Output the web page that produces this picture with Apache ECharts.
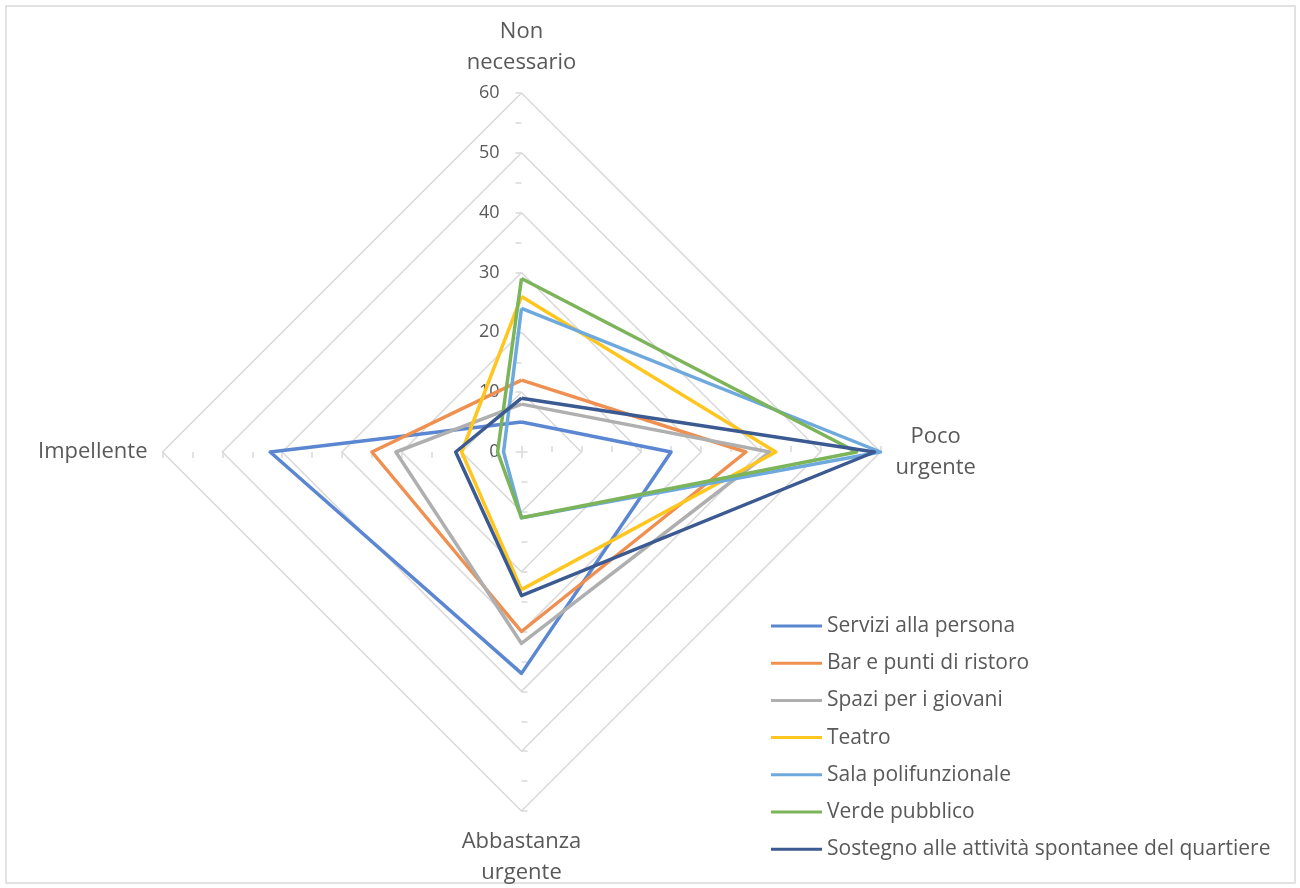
<!DOCTYPE html>
<html>
<head>
<meta charset="utf-8">
<script src="https://cdn.jsdelivr.net/npm/echarts@6/dist/echarts.min.js"></script>
<style>
  html, body { margin: 0; padding: 0; background: #ffffff; }
  #chart { width: 1300px; height: 888px; }
</style>
</head>
<body>
<div id="chart"></div>
<script>
// Radar axes, listed clockwise from the top
const categories = ['Non\nnecessario', 'Poco\nurgente', 'Abbastanza\nurgente', 'Impellente'];
const axisMax = 60;

// Values per series, same order as categories
const serviziAllaPersona = [5, 25, 37, 42];
const barPuntiRistoro = [12, 37.5, 30, 25];
const spaziGiovani = [8, 41.5, 32, 21];
const teatro = [26, 42.5, 23, 10];
const salaPolifunzionale = [24, 60, 11, 3];
const verdePubblico = [29, 56, 11, 4];
const sostegnoQuartiere = [9, 59, 24, 11];

const seriesNames = [
  'Servizi alla persona',
  'Bar e punti di ristoro',
  'Spazi per i giovani',
  'Teatro',
  'Sala polifunzionale',
  'Verde pubblico',
  'Sostegno alle attività spontanee del quartiere'
];
const seriesValues = [serviziAllaPersona, barPuntiRistoro, spaziGiovani, teatro,
  salaPolifunzionale, verdePubblico, sostegnoQuartiere];
const seriesColors = ['#5B87D2', '#EF8F50', '#AFAFAF', '#FFC61F', '#6EA9DE', '#7CB459', '#3C5A92'];

const textColor = '#595959';
const fontFamily = 'Open Sans, sans-serif';

// ECharts lays indicators out counter-clockwise; remap so the axes run clockwise
const order = [0, 3, 2, 1];
const remap = arr => order.map(i => arr[i]);

const center = [521.5, 452];
const radius = 359;

function indicators(withLabels) {
  return remap(categories).map((name, k) => ({
    name: name,
    min: 0,
    max: axisMax,
    axisLabel: { show: withLabels && k === 0 }
  }));
}

const tickBase = {
  center: center,
  radius: radius,
  shape: 'polygon',
  splitNumber: 12,
  axisName: { show: false },
  axisLine: { show: false },
  axisLabel: { show: false },
  splitLine: { show: false },
  splitArea: { show: false },
  silent: true
};

const option = {
  animation: false,
  backgroundColor: '#ffffff',
  graphic: [{
    type: 'rect',
    shape: { x: 6, y: 6, width: 1289, height: 877 },
    style: { fill: 'none', stroke: '#d9d9d9', lineWidth: 1.5 },
    silent: true
  }],
  legend: {
    orient: 'vertical',
    left: 766,
    top: 610,
    icon: 'rect',
    itemWidth: 51,
    itemHeight: 3,
    itemGap: 15.2,
    data: seriesNames,
    textStyle: { color: textColor, fontSize: 21, fontFamily: fontFamily, lineHeight: 22 }
  },
  radar: [
    {
      center: center,
      radius: radius,
      shape: 'polygon',
      splitNumber: 6,
      indicator: indicators(true),
      axisName: {
        color: textColor,
        fontSize: 22,
        fontFamily: fontFamily,
        formatter: name => name.split('\n').map(l => '{c|' + l + '}').join('\n'),
        rich: {
          c: { align: 'center', color: textColor, fontSize: 22, fontFamily: fontFamily, lineHeight: 31 }
        }
      },
      nameGap: 15,
      axisLine: { show: false },
      axisTick: { show: false },
      axisLabel: { show: true, color: textColor, fontSize: 18, fontFamily: fontFamily, margin: 22 },
      splitLine: { lineStyle: { color: '#d9d9d9', width: 1.5 } },
      splitArea: { show: false }
    },
    Object.assign({}, tickBase, {
      indicator: indicators(false),
      axisTick: { show: true, length: 6, lineStyle: { color: '#d9d9d9', width: 1.5 } }
    }),
    Object.assign({}, tickBase, {
      indicator: indicators(false),
      axisTick: { show: true, inside: true, length: 6, lineStyle: { color: '#d9d9d9', width: 1.5 } }
    })
  ],
  series: seriesNames.map((name, i) => ({
    type: 'radar',
    name: name,
    radarIndex: 0,
    symbol: 'none',
    color: seriesColors[i],
    lineStyle: { width: 3.5, color: seriesColors[i], join: 'round' },
    data: [{ name: name, value: remap(seriesValues[i]) }]
  }))
};

const chart = echarts.init(document.getElementById('chart'), null, { renderer: 'canvas' });
chart.setOption(option);
</script>
</body>
</html>
